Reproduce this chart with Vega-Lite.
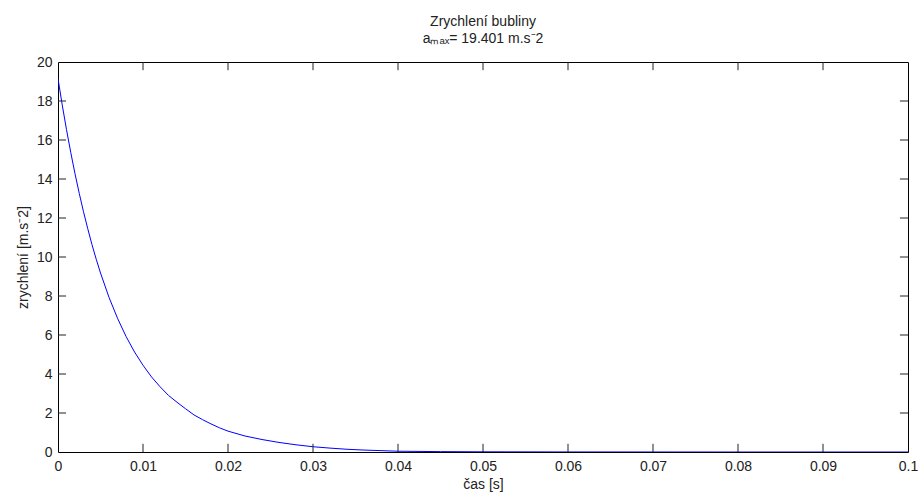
{
  "$schema": "https://vega.github.io/schema/vega-lite/v6.json",
  "width": 850,
  "height": 390,
  "autosize": {"type": "none"},
  "padding": {"left": 58, "top": 62, "right": 13, "bottom": 46},
  "background": "white",
  "config": {
    "font": "Liberation Sans",
    "view": {"stroke": "#000", "strokeWidth": 1},
    "axis": {"grid": false, "ticks": false, "domain": false, "labelFont": "Liberation Sans", "labelFontSize": 14, "labelColor": "#222", "titleFont": "Liberation Sans", "titleFontSize": 14, "titleFontWeight": "normal", "titleColor": "#222"}
  },
  "title": {
    "text": ["Zrychlení bubliny", "aₘₐₓ= 19.401 m.s⁻2"],
    "font": "Liberation Sans",
    "fontSize": 14,
    "fontWeight": "normal",
    "color": "#222",
    "anchor": "middle",
    "offset": 9,
    "lineHeight": 17
  },
  "datasets": {
    "curve": [
      {"t": 0, "a": 19.15},
      {"t": 0.0005, "a": 17.79},
      {"t": 0.001, "a": 16.53},
      {"t": 0.0015, "a": 15.36},
      {"t": 0.002, "a": 14.27},
      {"t": 0.0025, "a": 13.26},
      {"t": 0.003, "a": 12.32},
      {"t": 0.0035, "a": 11.45},
      {"t": 0.004, "a": 10.63},
      {"t": 0.0045, "a": 9.88},
      {"t": 0.005, "a": 9.18},
      {"t": 0.006, "a": 7.93},
      {"t": 0.007, "a": 6.86},
      {"t": 0.008, "a": 5.93},
      {"t": 0.009, "a": 5.13},
      {"t": 0.010, "a": 4.45},
      {"t": 0.011, "a": 3.85},
      {"t": 0.012, "a": 3.35},
      {"t": 0.013, "a": 2.90},
      {"t": 0.014, "a": 2.55},
      {"t": 0.015, "a": 2.22},
      {"t": 0.016, "a": 1.90},
      {"t": 0.017, "a": 1.66},
      {"t": 0.018, "a": 1.44},
      {"t": 0.019, "a": 1.24},
      {"t": 0.020, "a": 1.07},
      {"t": 0.022, "a": 0.82},
      {"t": 0.024, "a": 0.64},
      {"t": 0.026, "a": 0.49},
      {"t": 0.028, "a": 0.37},
      {"t": 0.030, "a": 0.27},
      {"t": 0.032, "a": 0.20},
      {"t": 0.034, "a": 0.14},
      {"t": 0.036, "a": 0.10},
      {"t": 0.038, "a": 0.07},
      {"t": 0.040, "a": 0.04},
      {"t": 0.045, "a": 0.02},
      {"t": 0.050, "a": 0.01},
      {"t": 0.060, "a": 0.003},
      {"t": 0.070, "a": 0.001},
      {"t": 0.080, "a": 0},
      {"t": 0.090, "a": 0},
      {"t": 0.100, "a": 0}
    ],
    "xticks": [
      {"t": 0.01}, {"t": 0.02}, {"t": 0.03}, {"t": 0.04}, {"t": 0.05},
      {"t": 0.06}, {"t": 0.07}, {"t": 0.08}, {"t": 0.09}
    ],
    "yticks": [
      {"a": 2}, {"a": 4}, {"a": 6}, {"a": 8}, {"a": 10},
      {"a": 12}, {"a": 14}, {"a": 16}, {"a": 18}
    ]
  },
  "resolve": {"scale": {"x": "shared", "y": "shared"}, "axis": {"x": "independent", "y": "independent"}},
  "layer": [
    {
      "data": {"name": "curve"},
      "mark": {"type": "line", "color": "#0000FF", "strokeWidth": 1, "clip": true},
      "encoding": {
        "x": {"field": "t", "type": "quantitative", "scale": {"domain": [0, 0.1], "nice": false, "zero": false},
          "axis": {"title": "čas [s]", "values": [0, 0.01, 0.02, 0.03, 0.04, 0.05, 0.06, 0.07, 0.08, 0.09, 0.1], "format": "~g", "labelFlush": false, "labelPadding": 7, "titlePadding": 4}},
        "y": {"field": "a", "type": "quantitative", "scale": {"domain": [0, 20], "nice": false},
          "axis": {"title": "zrychlení [m.s⁻2]", "values": [0, 2, 4, 6, 8, 10, 12, 14, 16, 18, 20], "labelPadding": 6, "titlePadding": 6}}
      }
    },
    {
      "data": {"name": "xticks"},
      "mark": {"type": "rule", "color": "#222", "strokeWidth": 1},
      "encoding": {
        "x": {"field": "t", "type": "quantitative", "axis": null},
        "y": {"datum": 0, "type": "quantitative", "axis": null},
        "y2": {"datum": 0.42}
      }
    },
    {
      "data": {"name": "xticks"},
      "mark": {"type": "rule", "color": "#222", "strokeWidth": 1},
      "encoding": {
        "x": {"field": "t", "type": "quantitative", "axis": null},
        "y": {"datum": 20, "type": "quantitative", "axis": null},
        "y2": {"datum": 19.58}
      }
    },
    {
      "data": {"name": "yticks"},
      "mark": {"type": "rule", "color": "#222", "strokeWidth": 1},
      "encoding": {
        "y": {"field": "a", "type": "quantitative", "axis": null},
        "x": {"datum": 0, "type": "quantitative", "axis": null},
        "x2": {"datum": 0.00095}
      }
    },
    {
      "data": {"name": "yticks"},
      "mark": {"type": "rule", "color": "#222", "strokeWidth": 1},
      "encoding": {
        "y": {"field": "a", "type": "quantitative", "axis": null},
        "x": {"datum": 0.1, "type": "quantitative", "axis": null},
        "x2": {"datum": 0.09905}
      }
    }
  ]
}
